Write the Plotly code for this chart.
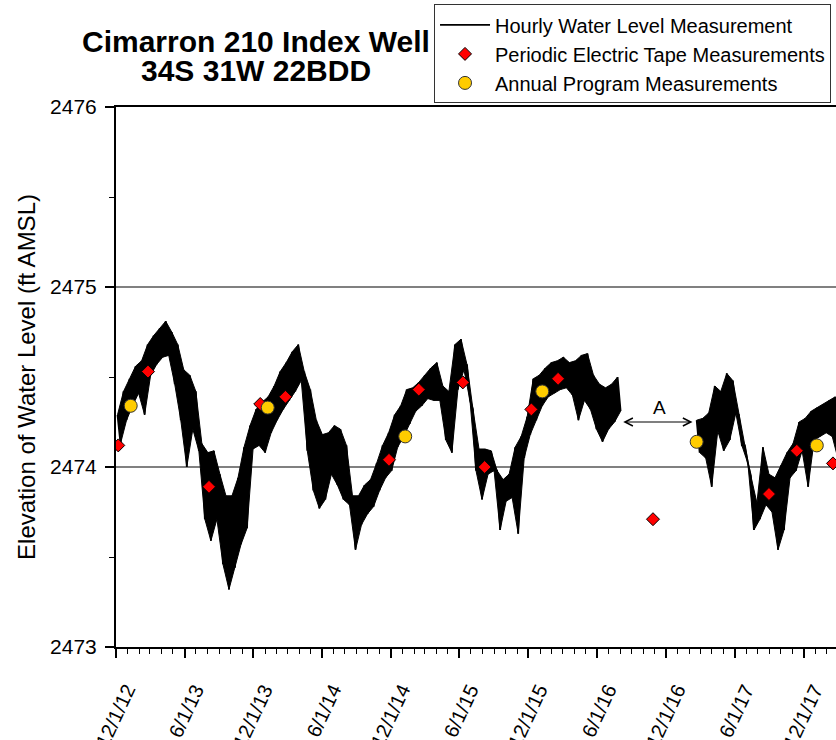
import pandas as pd
import plotly.graph_objects as go

# ---------------- data ----------------
step_days = 16  # each hi/lo pair covers 16 days; lo sample sits 8 days after hi

seg1_start = "2012-12-05"
seg1_hi = [2474.29, 2474.42, 2474.49, 2474.56, 2474.59, 2474.68, 2474.73, 2474.77, 2474.81, 2474.75,
           2474.68, 2474.54, 2474.51, 2474.42, 2474.13, 2474.08, 2474.09, 2473.96, 2473.84, 2473.84,
           2473.94, 2474.11, 2474.23, 2474.32, 2474.36, 2474.39, 2474.45, 2474.53, 2474.58, 2474.64,
           2474.68, 2474.53, 2474.43, 2474.26, 2474.18, 2474.19, 2474.23, 2474.21, 2474.12, 2473.84,
           2473.84, 2473.90, 2473.93, 2474.02, 2474.12, 2474.19, 2474.29, 2474.34, 2474.43, 2474.44,
           2474.47, 2474.51, 2474.55, 2474.58, 2474.45, 2474.42, 2474.68, 2474.71, 2474.57, 2474.32,
           2474.10, 2474.10, 2474.09, 2473.98, 2473.93, 2473.96, 2474.11, 2474.17, 2474.28, 2474.49,
           2474.51, 2474.55, 2474.58, 2474.59, 2474.61, 2474.58, 2474.59, 2474.62, 2474.63, 2474.51,
           2474.46, 2474.44, 2474.46, 2474.50]
seg1_lo = [2474.13, 2474.26, 2474.34, 2474.41, 2474.29, 2474.51, 2474.57, 2474.61, 2474.62, 2474.46,
           2474.26, 2474.00, 2474.21, 2474.09, 2473.71, 2473.59, 2473.71, 2473.46, 2473.32, 2473.44,
           2473.57, 2473.66, 2474.10, 2474.12, 2474.08, 2474.19, 2474.26, 2474.32, 2474.37, 2474.42,
           2474.48, 2474.09, 2473.87, 2473.77, 2473.82, 2473.96, 2473.90, 2473.82, 2473.79, 2473.54,
           2473.68, 2473.74, 2473.78, 2473.87, 2473.94, 2473.98, 2474.11, 2474.17, 2474.24, 2474.31,
           2474.34, 2474.38, 2474.37, 2474.37, 2474.15, 2474.08, 2474.43, 2474.54, 2474.37, 2473.98,
           2473.82, 2473.96, 2473.98, 2473.65, 2473.81, 2473.83, 2473.63, 2474.05, 2474.18, 2474.26,
           2474.34, 2474.39, 2474.41, 2474.43, 2474.44, 2474.40, 2474.26, 2474.37, 2474.32, 2474.21,
           2474.14, 2474.21, 2474.25, 2474.31]

seg2_start = "2017-02-20"
seg2_hi = [2474.26, 2474.27, 2474.30, 2474.45, 2474.42, 2474.52, 2474.48, 2474.29, 2474.12, 2473.95,
           2473.80, 2474.11, 2473.96, 2473.94, 2474.01, 2474.08, 2474.13, 2474.25, 2474.27, 2474.31,
           2474.33, 2474.35, 2474.37, 2474.39]
seg2_lo = [2474.08, 2474.05, 2473.89, 2474.20, 2474.09, 2474.15, 2474.30, 2474.12, 2474.02, 2473.65,
           2473.71, 2473.79, 2473.75, 2473.54, 2473.65, 2473.94, 2473.98, 2474.09, 2473.89, 2474.15,
           2474.17, 2474.19, 2474.17, 2474.04]

tape_dates = ["2012-12-07", "2013-02-24", "2013-08-05", "2013-12-19", "2014-02-24",
              "2014-11-26", "2015-02-13", "2015-06-10", "2015-08-07", "2015-12-09",
              "2016-02-18", "2016-10-27", "2017-08-31", "2017-11-13", "2018-02-17"]
tape_vals = [2474.12, 2474.53, 2473.89, 2474.35, 2474.39,
             2474.04, 2474.43, 2474.47, 2474.00, 2474.32,
             2474.49, 2473.71, 2473.85, 2474.09, 2474.02]

annual_dates = ["2013-01-09", "2014-01-08", "2015-01-08", "2016-01-07", "2017-02-20", "2018-01-05"]
annual_vals = [2474.34, 2474.33, 2474.17, 2474.42, 2474.14, 2474.12]

tick_dates = ["2012-12-01", "2013-06-01", "2013-12-01", "2014-06-01", "2014-12-01", "2015-06-01",
              "2015-12-01", "2016-06-01", "2016-12-01", "2017-06-01", "2017-12-01"]
tick_labels = ["12/1/12", "6/1/13", "12/1/13", "6/1/14", "12/1/14", "6/1/15",
               "12/1/15", "6/1/16", "12/1/16", "6/1/17", "12/1/17"]

x_range = ["2012-12-01", "2018-02-25"]
y_range = [2473, 2476]

gap_arrow_start = "2016-08-05"
gap_arrow_end = "2017-02-09"
gap_arrow_level = 2474.25
gap_label_date = "2016-11-13"
gap_label_level = 2474.33

# ---------------- build hourly trace ----------------
def seg_points(start, hi, lo):
    dates = pd.date_range(start, periods=len(hi), freq=f"{step_days}D")
    lo_dates = [d + pd.Timedelta(days=step_days // 2) for d in dates]
    return list(dates), lo_dates

FONT = "Liberation Sans, Arial, Helvetica, sans-serif"

fig = go.Figure()

zx, zy = [], []
for start, hi, lo in [(seg1_start, seg1_hi, seg1_lo), (seg2_start, seg2_hi, seg2_lo)]:
    hd, ld = seg_points(start, hi, lo)
    # envelope band (dense hourly record drawn as a solid band)
    fig.add_trace(go.Scatter(x=hd, y=hi, mode="lines", line=dict(color="black", width=1),
                             showlegend=False, hoverinfo="skip"))
    fig.add_trace(go.Scatter(x=ld, y=lo, mode="lines", line=dict(color="black", width=1),
                             fill="tonexty", fillcolor="black", showlegend=False, hoverinfo="skip"))
    for a, b, h, l in zip(hd, ld, hi, lo):
        zx += [a, b]
        zy += [h, l]
    zx.append(None)
    zy.append(None)

fig.add_trace(go.Scatter(x=zx, y=zy, mode="lines", name="Hourly Water Level Measurement",
                         line=dict(color="black", width=1.8), connectgaps=False))
fig.add_trace(go.Scatter(x=tape_dates, y=tape_vals, mode="markers",
                         name="Periodic Electric Tape Measurements",
                         marker=dict(symbol="diamond", size=10, color="#ff0000",
                                     line=dict(color="black", width=1))))
fig.add_trace(go.Scatter(x=annual_dates, y=annual_vals, mode="markers",
                         name="Annual Program Measurements",
                         marker=dict(symbol="circle", size=13, color="#ffcc00",
                                     line=dict(color="#333333", width=1))))

annotations = []
annotations.append(dict(text="<b>Cimarron 210 Index Well</b>", xref="paper", yref="paper",
                        x=0.195, y=1.1213, xanchor="center", yanchor="middle", showarrow=False,
                        font=dict(family=FONT, size=30, color="black")))
annotations.append(dict(text="<b>34S 31W 22BDD</b>", xref="paper", yref="paper",
                        x=0.195, y=1.0685, xanchor="center", yanchor="middle", showarrow=False,
                        font=dict(family=FONT, size=30, color="black")))
for d, lab in zip(tick_dates, tick_labels):
    annotations.append(dict(text=lab, x=d, xref="x", y=0, yref="paper", xanchor="right",
                            yanchor="top", xshift=26, yshift=-31, textangle=-65, showarrow=False,
                            font=dict(family=FONT, size=20, color="black")))
annotations.append(dict(text="", x=gap_arrow_end, y=gap_arrow_level, ax=gap_arrow_start,
                        ay=gap_arrow_level, xref="x", yref="y", axref="x", ayref="y",
                        showarrow=True, arrowside="end+start", arrowhead=5, arrowsize=1.3,
                        arrowwidth=1.2, arrowcolor="black"))
annotations.append(dict(text="A", x=gap_label_date, y=gap_label_level, xref="x", yref="y",
                        showarrow=False, font=dict(family=FONT, size=19, color="black")))

fig.update_layout(
    width=836, height=740,
    margin=dict(l=116, r=0, t=107, b=93),
    paper_bgcolor="white", plot_bgcolor="white",
    font=dict(family=FONT, color="black"),
    showlegend=True,
    legend=dict(x=0.4417, y=1.19, xanchor="left", yanchor="top", bgcolor="white",
                bordercolor="#333333", borderwidth=1, font=dict(family=FONT, size=20),
                itemwidth=50, tracegroupgap=0, traceorder="normal"),
    annotations=annotations,
)
fig.update_xaxes(type="date", range=x_range, showgrid=False, zeroline=False,
                 showline=True, linecolor="black", linewidth=2, mirror=True,
                 ticks="outside", ticklen=9, tickwidth=1.5, tickcolor="black",
                 tick0="2012-12-01", dtick="M6", showticklabels=False,
                 minor=dict(dtick="M1", tick0="2012-12-01", ticks="outside", ticklen=5,
                            tickwidth=1.2, tickcolor="black", showgrid=False))
fig.update_yaxes(range=y_range, dtick=1, showgrid=True, gridcolor="#808080", gridwidth=1.5,
                 zeroline=False, showline=True, linecolor="black", linewidth=2,
                 ticks="outside", ticklen=9, tickwidth=1.5, tickcolor="black",
                 tickformat="d", tickfont=dict(family=FONT, size=21, color="black"),
                 ticklabelstandoff=4,
                 title=dict(text="Elevation of Water Level (ft AMSL)", standoff=8,
                            font=dict(family=FONT, size=24, color="black")),
                 minor=dict(dtick=0.5, ticks="outside", ticklen=5, tickwidth=1.2,
                            tickcolor="black", showgrid=False))

fig.write_html("out.html", config={"displayModeBar": False},
               post_script="document.body.style.margin='0';")
